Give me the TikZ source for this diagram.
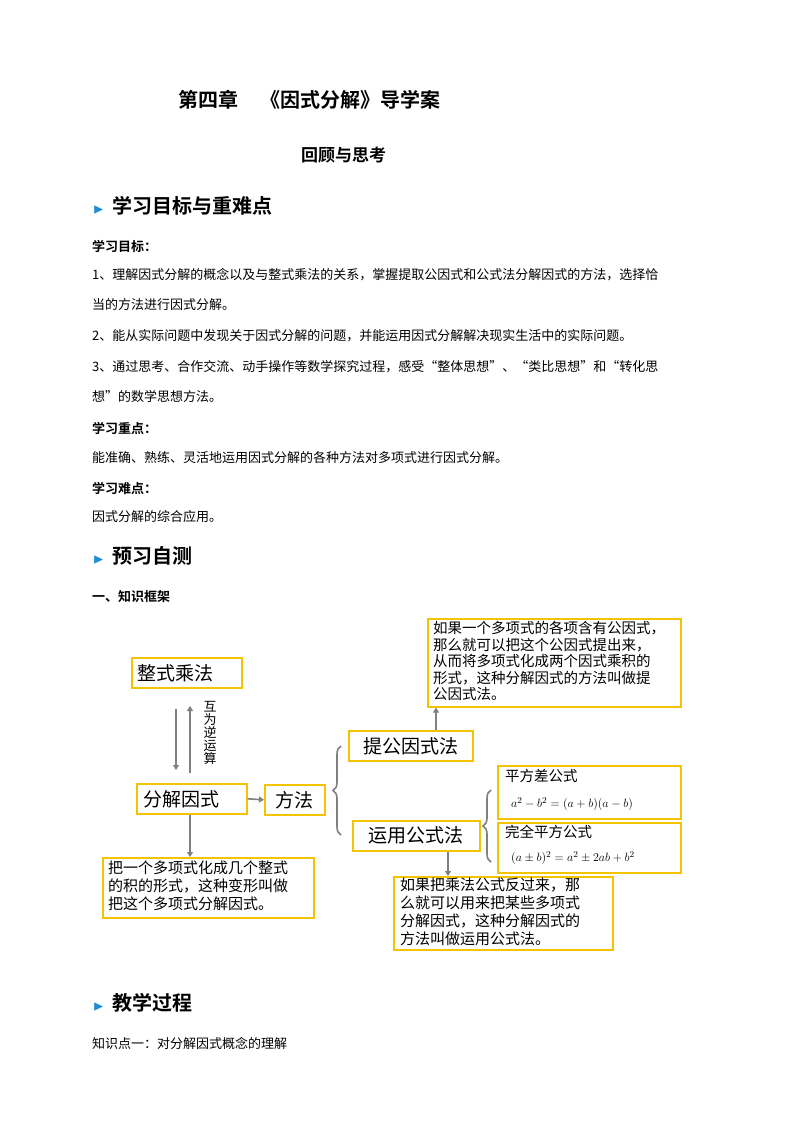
\documentclass[tikz,border=0pt]{standalone}
\usepackage{fontspec}
\usepackage{amssymb}
\setmainfont{Liberation Serif}
\newfontfamily\cjk{Noto Sans CJK SC}
\newfontfamily\cjkb{Noto Sans CJK SC Bold}
\usetikzlibrary{decorations.pathreplacing,arrows.meta}
\definecolor{gold}{HTML}{F5C400}
\definecolor{tri}{HTML}{1F8DD6}
\tikzset{
 body/.style={anchor=west,inner sep=0,font=\fontsize{13}{13}\cjk},
 bold/.style={anchor=west,inner sep=0,font=\fontsize{13}{13}\cjkb},
 head/.style={anchor=west,inner sep=0,font=\fontsize{20}{20}\cjkb},
 box/.style={draw=gold,line width=1.6pt,anchor=north west,inner sep=0,fill=white},
 bigt/.style={font=\fontsize{19}{19}\cjk},
 para/.style={font=\fontsize{15}{18}\cjk,align=left,anchor=north west,inner sep=0},
 arr/.style={draw=gray,line width=1.6pt,-{Triangle[width=6pt,length=5pt]}},
 brc/.style={draw=gray,line width=1.6pt,decorate,decoration={brace,amplitude=8pt}}
}
\newcommand{\tria}{\textcolor{tri}{\fontsize{14}{14}\selectfont$\blacktriangleright$}}
\begin{document}
\begin{tikzpicture}[x=1pt,y=-1pt]
\useasboundingbox[fill=white] (0,0) rectangle (800,1132);
\node[anchor=west,inner sep=0,font=\fontsize{20}{20}\cjkb] (t1) at (178,100) {第四章\hspace{22pt}《因式分解》导学案};
\node[anchor=west,inner sep=0,font=\fontsize{17}{17}\cjkb] (t2) at (301,155) {回顾与思考};
\node[head] (h1) at (93,206) {\tria\hspace{8pt}学习目标与重难点};
\node[bold] (l1) at (92,246) {学习目标：};
\node[body] (l2) at (92,275) {1、理解因式分解的概念以及与整式乘法的关系，掌握提取公因式和公式法分解因式的方法，选择恰};
\node[body] (l3) at (92,305) {当的方法进行因式分解。};
\node[body] (l4) at (92,336) {2、能从实际问题中发现关于因式分解的问题，并能运用因式分解解决现实生活中的实际问题。};
\node[body] (l5) at (92,367) {3、通过思考、合作交流、动手操作等数学探究过程，感受“整体思想”、“类比思想”和“转化思};
\node[body] (l6) at (92,397) {想”的数学思想方法。};
\node[bold] (l7) at (92,428) {学习重点：};
\node[body] (l8) at (92,458) {能准确、熟练、灵活地运用因式分解的各种方法对多项式进行因式分解。};
\node[bold] (l9) at (92,489) {学习难点：};
\node[body] (l10) at (92,517) {因式分解的综合应用。};
\node[head] (h2) at (93,556) {\tria\hspace{8pt}预习自测};
\node[bold] (l11) at (92,597) {一、知识框架};
\node[head] (h3) at (93,1003) {\tria\hspace{8pt}教学过程};
\node[body] (l12) at (92,1043) {知识点一：对分解因式概念的理解};
% diagram
\node[box,minimum width=110pt,minimum height=30pt] (zs) at (131,657) {};
\node[bigt,anchor=west,inner sep=0] at ([xshift=6pt]zs.west) {整式乘法};
\node[box,minimum width=110pt,minimum height=30pt] (fj) at (136,783) {};
\node[bigt,anchor=west,inner sep=0] at ([xshift=7pt]fj.west) {分解因式};
\node[box,minimum width=60pt,minimum height=30pt,bigt] (ff) at (264,784) {方法};
\node[box,minimum width=124pt,minimum height=30pt,bigt] (tg) at (348,730) {提公因式法};
\node[box,minimum width=127pt,minimum height=30pt,bigt] (yy) at (352,820) {运用公式法};
\node[box,minimum width=253pt,minimum height=88pt] (tb) at (427,618) {};
\node[para,font=\fontsize{14.5}{16.5}\cjk] at ([shift={(6,3)}]tb.north west) {如果一个多项式的各项含有公因式，\\那么就可以把这个公因式提出来，\\从而将多项式化成两个因式乘积的\\形式，这种分解因式的方法叫做提\\公因式法。};
\node[box,minimum width=183pt,minimum height=53pt] (pf) at (497,765) {};
\node[para,font=\fontsize{14.5}{14.5}\cjk] at ([shift={(8,4)}]pf.north west) {平方差公式};
\node[anchor=west,inner sep=0,font=\fontsize{13}{13}\selectfont] at ([shift={(14,12)}]pf.west) {$a^2-b^2=(a+b)(a-b)$};
\node[box,minimum width=183pt,minimum height=50pt] (wq) at (497,822) {};
\node[para,font=\fontsize{14.5}{14.5}\cjk] at ([shift={(8,3)}]wq.north west) {完全平方公式};
\node[anchor=west,inner sep=0,font=\fontsize{13}{13}\selectfont] at ([shift={(14,10)}]wq.west) {$(a\pm b)^2=a^2\pm 2ab+b^2$};
\node[box,minimum width=211pt,minimum height=60pt] (bl) at (102,857) {};
\node[para] at ([shift={(6,4)}]bl.north west) {把一个多项式化成几个整式\\的积的形式，这种变形叫做\\把这个多项式分解因式。};
\node[box,minimum width=219pt,minimum height=73pt] (br) at (393,876) {};
\node[para] at ([shift={(7,2)}]br.north west) {如果把乘法公式反过来，那\\么就可以用来把某些多项式\\分解因式，这种分解因式的\\方法叫做运用公式法。};
\coordinate (a1) at (176,709); \coordinate (a2) at (176,770);
\coordinate (a3) at (190,773); \coordinate (a4) at (190,706);
\draw[arr] (a1) -- (a2);
\draw[arr] (a3) -- (a4);
\node[font=\fontsize{13}{13}\cjk,align=center,inner sep=0] (hw) at (210,733) {互\\为\\逆\\运\\算};
\draw[arr] (fj.south -| a3) -- (bl.north -| a3);
\draw[arr] (fj.east) -- (ff.west);
\draw[arr] (tg.north -| 436,0) -- (tb.south -| 436,0);
\draw[arr] (yy.south -| 448,0) -- (br.north -| 448,0);
\coordinate (b1) at (341,746); \coordinate (b2) at (341,835);
\draw[brc] (b2) -- (b1);
\coordinate (b3) at (491,790); \coordinate (b4) at (491,862);
\draw[brc] (b4) -- (b3);
\end{tikzpicture}
\end{document}
